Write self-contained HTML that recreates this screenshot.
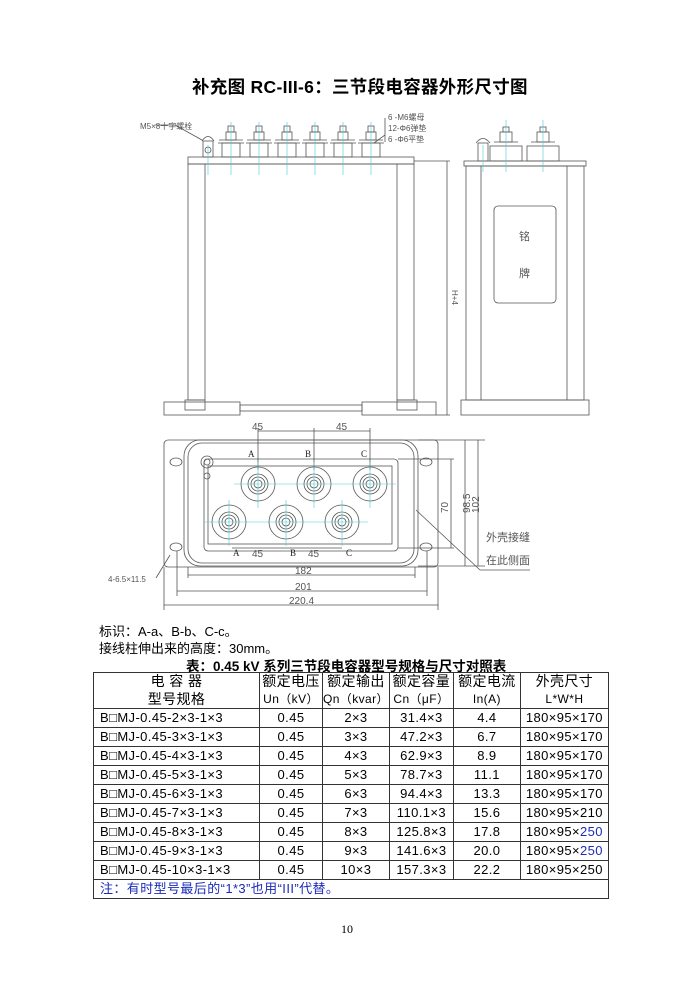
<!DOCTYPE html>
<html><head><meta charset="utf-8"><style>
body{margin:0;width:700px;height:990px;background:#fff;position:relative;overflow:hidden;font-family:"Liberation Sans","Noto Sans CJK SC",sans-serif;color:#000}
.a{position:absolute;white-space:nowrap}
table{position:absolute;left:93px;top:672px;border-collapse:collapse;font-size:13px;table-layout:fixed;letter-spacing:0.4px}
td{border:1px solid #333;padding:0;text-align:center;height:18px;line-height:18px;white-space:nowrap}
td.l{text-align:left;padding-left:6px}
.h td{height:17.5px;line-height:17px;font-size:14px}
.b{color:#1a2bb8}
</style></head><body>
<div class="a" style="left:192px;top:74px;font-size:17.5px;font-weight:bold;letter-spacing:0.3px">补充图 RC-III-6：三节段电容器外形尺寸图</div>
<svg class="a" style="left:0;top:0" width="700" height="620" viewBox="0 0 700 620">
<g fill="none" stroke="#555" stroke-width="0.8">
<rect x="188" y="157" width="226" height="7"/>
<rect x="188" y="164" width="17" height="236"/>
<rect x="397" y="164" width="17" height="236"/>
<line x1="205" y1="164" x2="397" y2="164"/>
<rect x="164" y="402" width="76" height="13"/>
<rect x="185" y="400" width="20" height="10"/>
<rect x="362" y="402" width="74" height="13"/>
<rect x="397" y="400" width="20" height="10"/>
<rect x="240" y="405" width="122" height="6"/>
<g id="t">
<rect x="222" y="143" width="18" height="14"/>
<line x1="218" y1="143" x2="244" y2="143"/>
<line x1="219" y1="140" x2="243" y2="140"/>
<rect x="226" y="132" width="10" height="8"/>
<rect x="228" y="126" width="6" height="6"/>
</g>
<use href="#t" x="28"/><use href="#t" x="56"/><use href="#t" x="84"/><use href="#t" x="112"/><use href="#t" x="140"/>
<rect x="203" y="141" width="10" height="16"/><circle cx="208" cy="150" r="3"/>
<path d="M202 141 Q208 132 214 141"/>
<line x1="447" y1="161" x2="447" y2="415"/><line x1="414" y1="161" x2="450" y2="161"/><line x1="436" y1="415" x2="450" y2="415"/>
<rect x="464" y="161" width="122" height="5"/>
<rect x="466" y="166" width="118" height="234"/>
<line x1="481" y1="166" x2="481" y2="400"/><line x1="567" y1="166" x2="567" y2="400"/>
<rect x="494" y="206" width="62" height="97" rx="4"/>
<rect x="461" y="400" width="128" height="15"/>
<rect x="490" y="146" width="32" height="15"/><rect x="500" y="132" width="12" height="10"/><rect x="503" y="127" width="6" height="5"/><line x1="494" y1="142" x2="518" y2="142"/>
<rect x="527" y="146" width="32" height="15"/><rect x="537" y="132" width="12" height="10"/><rect x="540" y="127" width="6" height="5"/><line x1="531" y1="142" x2="555" y2="142"/>
<rect x="478" y="143" width="10" height="18"/><path d="M476 143 Q483 134 490 143"/>
<rect x="164" y="440" width="274" height="127" rx="4"/>
<rect x="184" y="440" width="234" height="126" rx="16"/>
<rect x="188" y="443" width="226" height="120" rx="14"/>
<rect x="204" y="459" width="194" height="92" rx="4"/>
<rect x="208" y="466" width="184" height="78"/>
<ellipse cx="176" cy="462" rx="6" ry="4"/><ellipse cx="426" cy="462" rx="6" ry="4"/>
<ellipse cx="176" cy="547" rx="6" ry="4"/><ellipse cx="426" cy="547" rx="6" ry="4"/>
<line x1="188" y1="567" x2="188" y2="578"/><line x1="415" y1="567" x2="415" y2="578"/>
<line x1="188" y1="575" x2="415" y2="575"/>
<line x1="177" y1="551" x2="177" y2="596"/><line x1="427" y1="551" x2="427" y2="596"/>
<line x1="177" y1="591" x2="427" y2="591"/>
<line x1="164" y1="567" x2="164" y2="610"/><line x1="438" y1="567" x2="438" y2="610"/>
<line x1="164" y1="605" x2="438" y2="605"/>
<line x1="258" y1="428" x2="258" y2="470"/><line x1="314" y1="428" x2="314" y2="470"/><line x1="370" y1="428" x2="370" y2="470"/>
<line x1="258" y1="431" x2="370" y2="431"/>
<line x1="232" y1="548" x2="286" y2="548"/><line x1="286" y1="548" x2="342" y2="548"/>
<line x1="398" y1="459" x2="454" y2="459"/><line x1="398" y1="548" x2="454" y2="548"/>
<line x1="451" y1="459" x2="451" y2="548"/>
<line x1="418" y1="440" x2="485" y2="440"/><line x1="418" y1="566" x2="485" y2="566"/>
<line x1="465" y1="440" x2="465" y2="566"/><line x1="478" y1="440" x2="478" y2="566"/>
<line x1="416" y1="510" x2="480" y2="570"/><line x1="480" y1="570" x2="530" y2="570"/>
<line x1="156" y1="578" x2="170" y2="555"/>
<line x1="374" y1="143" x2="385" y2="135"/><line x1="385" y1="118" x2="385" y2="142"/>
<line x1="155" y1="125" x2="175" y2="125"/><line x1="175" y1="125" x2="202" y2="140"/>
<circle cx="207" cy="462" r="6"/><circle cx="207" cy="462" r="3"/><circle cx="207" cy="476" r="3"/>
<g id="c"><circle cx="258" cy="484" r="17"/><circle cx="258" cy="484" r="10"/><circle cx="258" cy="484" r="7"/><circle cx="258" cy="484" r="4"/></g>
<use href="#c" x="56"/><use href="#c" x="112"/><use href="#c" x="-29" y="38"/><use href="#c" x="28" y="38"/><use href="#c" x="84" y="38"/>
</g>
<g stroke="#4cc9d6" stroke-width="0.6">
<line x1="231" y1="122" x2="231" y2="175"/><line x1="259" y1="122" x2="259" y2="175"/><line x1="287" y1="122" x2="287" y2="175"/><line x1="315" y1="122" x2="315" y2="175"/><line x1="343" y1="122" x2="343" y2="175"/><line x1="371" y1="122" x2="371" y2="175"/>
<line x1="208" y1="145" x2="208" y2="175"/><line x1="506" y1="120" x2="506" y2="172"/><line x1="543" y1="120" x2="543" y2="172"/><line x1="483" y1="145" x2="483" y2="172"/>
<line x1="234" y1="484" x2="396" y2="484"/><line x1="205" y1="522" x2="368" y2="522"/>
<line x1="258" y1="462" x2="258" y2="508"/><line x1="314" y1="462" x2="314" y2="508"/><line x1="370" y1="462" x2="370" y2="508"/>
<line x1="229" y1="500" x2="229" y2="546"/><line x1="286" y1="500" x2="286" y2="546"/><line x1="342" y1="500" x2="342" y2="546"/>
</g>
<g font-size="10" fill="#555" font-family="Liberation Sans,sans-serif">
<text x="252" y="430">45</text><text x="336" y="430">45</text>
<text x="252" y="557">45</text><text x="308" y="557">45</text>
<text x="295" y="574">182</text><text x="295" y="590">201</text><text x="289" y="604">220.4</text>
<text x="108" y="582" font-size="8">4-6.5×11.5</text>
<text x="440" y="505" transform="rotate(-90 448 505)">70</text>
<text x="455" y="512" transform="rotate(-90 463 505)">98.5</text>
<text x="468" y="508" transform="rotate(-90 476 505)">102</text>
<text x="452" y="290" transform="rotate(90 452 290)" font-size="8">H+4</text>
<g font-family="Liberation Serif,serif" font-size="9" fill="#222"><text x="248" y="457">A</text><text x="305" y="457">B</text><text x="361" y="457">C</text><text x="233" y="556">A</text><text x="290" y="556">B</text><text x="346" y="556">C</text></g>
<g font-family="Liberation Sans,Noto Sans CJK SC,sans-serif" font-size="8"><text x="140" y="129">M5×8十字螺栓</text><text x="388" y="120">6 -M6螺母</text><text x="388" y="131">12-Φ6弹垫</text><text x="388" y="142">6 -Φ6平垫</text>
<text x="486" y="541" font-size="11">外壳接缝</text><text x="486" y="564" font-size="11">在此侧面</text>
<text x="519" y="240" font-size="11">铭</text><text x="519" y="277" font-size="11">牌</text></g>
</g>
</svg>
<div class="a" style="left:99px;top:621px;font-size:13px">标识：A-a、B-b、C-c。</div>
<div class="a" style="left:99px;top:638px;font-size:13px">接线柱伸出来的高度：30mm。</div>
<div class="a" style="left:186px;top:655px;font-size:13.5px;font-weight:bold">表：0.45 kV 系列三节段电容器型号规格与尺寸对照表</div>
<table>
<colgroup><col style="width:166px"><col style="width:63px"><col style="width:66px"><col style="width:64px"><col style="width:67px"><col style="width:88px"></colgroup>
<tr class="h"><td style="border-bottom:none">电 容 器</td><td style="border-bottom:none">额定电压</td><td style="border-bottom:none">额定输出</td><td style="border-bottom:none">额定容量</td><td style="border-bottom:none">额定电流</td><td style="border-bottom:none">外壳尺寸</td></tr>
<tr class="h"><td style="border-top:none">型号规格</td><td style="border-top:none;font-size:12px">Un（kV）</td><td style="border-top:none;font-size:12px">Qn（kvar）</td><td style="border-top:none;font-size:12px">Cn（μF）</td><td style="border-top:none;font-size:12px">In(A)</td><td style="border-top:none;font-size:12px">L*W*H</td></tr>
<tr><td class="l">B□MJ-0.45-2×3-1×3</td><td>0.45</td><td>2×3</td><td>31.4×3</td><td>4.4</td><td>180×95×170</td></tr>
<tr><td class="l">B□MJ-0.45-3×3-1×3</td><td>0.45</td><td>3×3</td><td>47.2×3</td><td>6.7</td><td>180×95×170</td></tr>
<tr><td class="l">B□MJ-0.45-4×3-1×3</td><td>0.45</td><td>4×3</td><td>62.9×3</td><td>8.9</td><td>180×95×170</td></tr>
<tr><td class="l">B□MJ-0.45-5×3-1×3</td><td>0.45</td><td>5×3</td><td>78.7×3</td><td>11.1</td><td>180×95×170</td></tr>
<tr><td class="l">B□MJ-0.45-6×3-1×3</td><td>0.45</td><td>6×3</td><td>94.4×3</td><td>13.3</td><td>180×95×170</td></tr>
<tr><td class="l">B□MJ-0.45-7×3-1×3</td><td>0.45</td><td>7×3</td><td>110.1×3</td><td>15.6</td><td>180×95×210</td></tr>
<tr><td class="l">B□MJ-0.45-8×3-1×3</td><td>0.45</td><td>8×3</td><td>125.8×3</td><td>17.8</td><td>180×95×<span class="b">250</span></td></tr>
<tr><td class="l">B□MJ-0.45-9×3-1×3</td><td>0.45</td><td>9×3</td><td>141.6×3</td><td>20.0</td><td>180×95×<span class="b">250</span></td></tr>
<tr><td class="l">B□MJ-0.45-10×3-1×3</td><td>0.45</td><td>10×3</td><td>157.3×3</td><td>22.2</td><td>180×95×250</td></tr>
<tr><td colspan="6" class="l b" style="padding-left:6px">注：有时型号最后的“1*3”也用“III”代替。</td></tr>
</table>
<div class="a" style="left:341px;top:922px;font-size:12px;font-family:'Liberation Serif',serif">10</div>
</body></html>
